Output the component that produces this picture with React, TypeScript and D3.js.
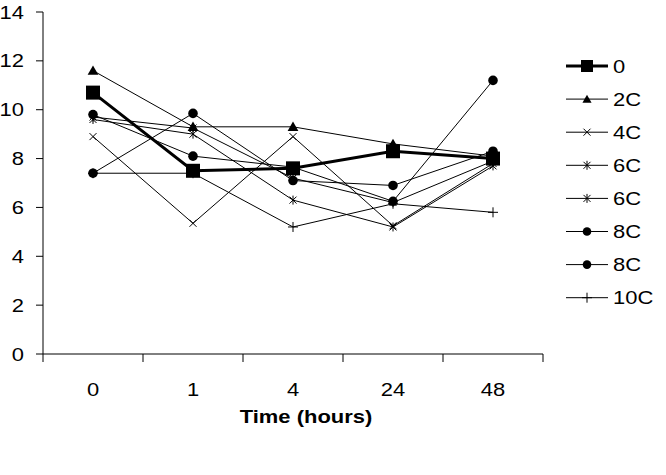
import React from "react";
import * as d3 from "d3";

const categories = ["0", "1", "4", "24", "48"];
const yTicks = [0, 2, 4, 6, 8, 10, 12, 14];
const seriesNames = ["0", "2C", "4C", "6C", "6C", "8C", "8C", "10C"];
const markerTypes = ["square", "triangle", "x", "asterisk", "asterisk", "circle", "circle", "plus"];
const s0 = [10.7, 7.5, 7.6, 8.3, 8.0];
const s2C = [11.6, 9.3, 9.3, 8.6, 8.1];
const s4C = [8.9, 5.35, 8.9, 5.25, 7.8];
const s6Ca = [9.6, 9.0, 6.3, 5.2, 7.7];
const s6Cb = [9.7, 9.25, 7.2, 6.2, 7.9];
const s8Ca = [7.4, 9.85, 7.1, 6.9, 8.3];
const s8Cb = [9.8, 8.1, 7.65, 6.25, 11.2];
const s10C = [7.4, 7.4, 5.2, 6.15, 5.8];
const seriesValues = [s0, s2C, s4C, s6Ca, s6Cb, s8Ca, s8Cb, s10C];

const W = 666, H = 475;
const left = 43, right = 543, top = 12, bottom = 354;
const font = "Liberation Sans, Arial, sans-serif";
const SX = 1.22;

function T({ x, y, anchor, bold, children }: { x: number; y: number; anchor?: string; bold?: boolean; children: React.ReactNode }) {
  return (
    <text
      transform={`translate(${x},${y}) scale(${SX},1)`}
      textAnchor={anchor || "start"}
      fontFamily={font}
      fontSize={18}
      fontWeight={bold ? "bold" : "normal"}
    >
      {children}
    </text>
  );
}

function Marker({ type, x, y, big }: { type: string; x: number; y: number; big?: boolean }) {
  if (type === "square") {
    const s = big ? 14 : 12;
    return <rect x={x - s / 2} y={y - s / 2} width={s} height={s} fill="#000" />;
  }
  if (type === "triangle") {
    const p = d3.symbol().type(d3.symbolTriangle).size(big ? 50 : 36)();
    return <path d={p as string} transform={`translate(${x},${y + 1})`} fill="#000" />;
  }
  if (type === "circle") {
    return <circle cx={x} cy={y} r={big ? 4.8 : 4.3} fill="#000" />;
  }
  const r = 3.5;
  if (type === "x") {
    return <path d={`M${x - r},${y - r}L${x + r},${y + r}M${x - r},${y + r}L${x + r},${y - r}`} stroke="#000" strokeWidth={1} fill="none" />;
  }
  if (type === "asterisk") {
    return <path d={`M${x - r},${y - r}L${x + r},${y + r}M${x - r},${y + r}L${x + r},${y - r}M${x},${y - r - 1}L${x},${y + r + 1}`} stroke="#000" strokeWidth={1} fill="none" />;
  }
  const q = 5;
  return <path d={`M${x - q},${y}L${x + q},${y}M${x},${y - q}L${x},${y + q}`} stroke="#000" strokeWidth={1} fill="none" />;
}

export default function App() {
  const x = d3.scaleBand<string>().domain(categories).range([left, right]).padding(0);
  const y = d3.scaleLinear().domain([0, 14]).range([bottom, top]);
  const cx = (c: string) => (x(c) as number) + x.bandwidth() / 2;
  const line = d3.line<number>().x((_, i) => cx(categories[i])).y((v) => y(v));
  const bounds = [...categories.map((c) => x(c) as number), right];

  const order = [1, 2, 3, 4, 5, 6, 7, 0];

  return (
    <svg width={W} height={H} style={{ position: "absolute", left: 0, top: 0, background: "#fff" }}>
      <rect x={0} y={0} width={W} height={H} fill="#fff" />
      <line x1={left} y1={top} x2={left} y2={bottom} stroke="#000" strokeWidth={1} />
      <line x1={left} y1={bottom} x2={right} y2={bottom} stroke="#000" strokeWidth={1} />
      {yTicks.map((t) => (
        <g key={t}>
          <line x1={left - 7} x2={left} y1={y(t)} y2={y(t)} stroke="#000" />
          <T x={24} y={y(t) + 6.5} anchor="end">{t}</T>
        </g>
      ))}
      {bounds.map((b, i) => (
        <line key={i} x1={b} x2={b} y1={bottom} y2={bottom + 8} stroke="#000" />
      ))}
      {categories.map((c) => (
        <T key={c} x={cx(c)} y={396} anchor="middle">{c}</T>
      ))}
      <T x={306} y={423} anchor="middle" bold>Time (hours)</T>

      {order.map((si) => (
        <path key={si} d={line(seriesValues[si]) as string} fill="none" stroke="#000" strokeWidth={si === 0 ? 3 : 1} />
      ))}
      {order.map((si) => (
        <g key={"m" + si}>
          {seriesValues[si].map((v, i) => (
            <Marker key={i} type={markerTypes[si]} x={cx(categories[i])} y={y(v)} big />
          ))}
        </g>
      ))}

      {seriesNames.map((n, i) => {
        const ly = 66 + i * 33.1;
        return (
          <g key={i}>
            <line x1={566} x2={608} y1={ly} y2={ly} stroke="#000" strokeWidth={i === 0 ? 3 : 1} />
            <Marker type={markerTypes[i]} x={587} y={ly} />
            <T x={613} y={ly + 6.5}>{n}</T>
          </g>
        );
      })}
    </svg>
  );
}
